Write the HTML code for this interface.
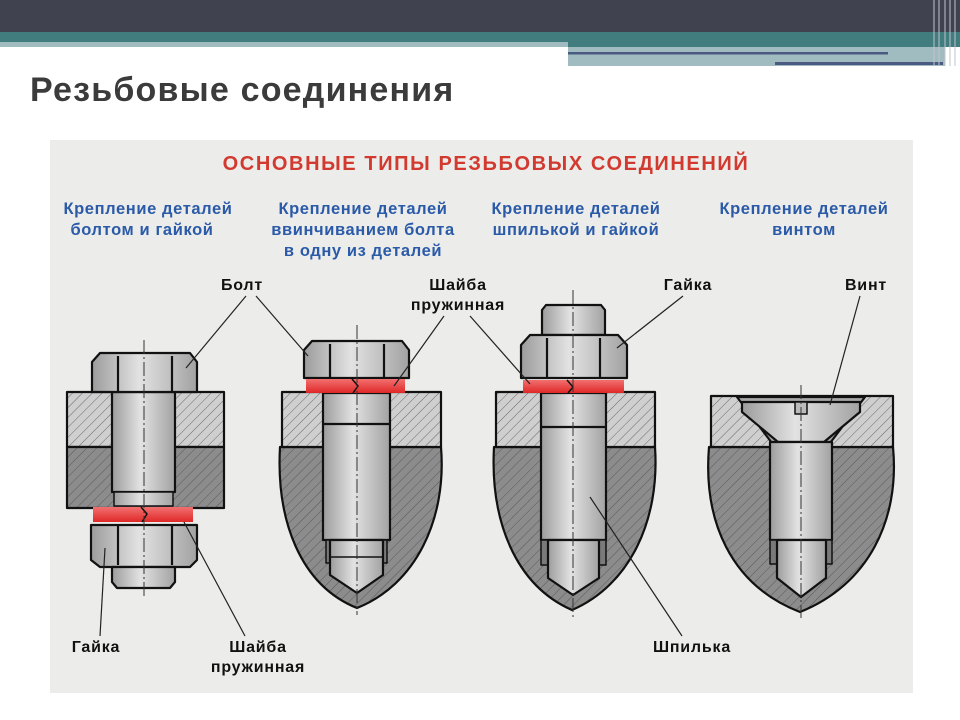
<!DOCTYPE html>
<html><head><meta charset="utf-8"><style>
html,body{margin:0;padding:0;background:#fff;}
body{width:960px;height:720px;position:relative;overflow:hidden;font-family:"Liberation Sans",sans-serif;}
</style></head><body>
<svg width="960" height="720" viewBox="0 0 960 720" xmlns="http://www.w3.org/2000/svg" style="position:absolute;left:0;top:0">
<defs>
<pattern id="hl" width="7" height="7" patternUnits="userSpaceOnUse" patternTransform="rotate(45)">
<rect width="7" height="7" fill="#cfcfcf"/><line x1="0" y1="0" x2="0" y2="7" stroke="#6a6a6a" stroke-width="1"/></pattern>
<pattern id="hd" width="7" height="7" patternUnits="userSpaceOnUse" patternTransform="rotate(45)">
<rect width="7" height="7" fill="#8c8c8c"/><line x1="0" y1="0" x2="0" y2="7" stroke="#5a5a5a" stroke-width="1"/></pattern>
<linearGradient id="m" x1="0" x2="1" y1="0" y2="0">
<stop offset="0" stop-color="#9c9c9c"/><stop offset="0.45" stop-color="#e2e2e2"/><stop offset="1" stop-color="#a2a2a2"/></linearGradient>
<linearGradient id="r" x1="0" x2="0" y1="0" y2="1">
<stop offset="0" stop-color="#f27070"/><stop offset="1" stop-color="#e02828"/></linearGradient>
</defs>
<rect x="0" y="0" width="960" height="32" fill="#41424f"/>
<rect x="0" y="32" width="960" height="10" fill="#417d7f"/>
<rect x="0" y="42" width="568" height="5" fill="#a0bcc0"/>
<rect x="568" y="42" width="392" height="5" fill="#417d7f"/>
<rect x="568" y="47" width="377" height="19" fill="#a0bcc0"/>
<rect x="568" y="52" width="320" height="2.5" fill="#4a5a80"/>
<rect x="775" y="62" width="168" height="3" fill="#4a5a80"/>
<g stroke="#c0c4cc" stroke-width="1"><line x1="934" y1="0" x2="934" y2="66"/><line x1="939" y1="0" x2="939" y2="66"/><line x1="945" y1="0" x2="945" y2="66"/><line x1="950" y1="0" x2="950" y2="66"/><line x1="955" y1="0" x2="955" y2="66"/></g>
<text x="30" y="101" font-size="34" font-weight="bold" fill="#3b3b3b" letter-spacing="1.2">Резьбовые соединения</text>

<rect x="50" y="140" width="863" height="553" fill="#ececea"/>
<text x="486" y="170" text-anchor="middle" font-size="20" font-weight="bold" fill="#d23a30" letter-spacing="1.6">ОСНОВНЫЕ ТИПЫ РЕЗЬБОВЫХ СОЕДИНЕНИЙ</text>
<g font-size="16.5" font-weight="bold" fill="#2a5aa8" text-anchor="middle" letter-spacing="0.6">
<text x="148" y="214">Крепление деталей</text><text x="142" y="235">болтом и гайкой</text>
<text x="363" y="214">Крепление деталей</text><text x="363" y="235">ввинчиванием болта</text><text x="363" y="256">в одну из деталей</text>
<text x="576" y="214">Крепление деталей</text><text x="576" y="235">шпилькой и гайкой</text>
<text x="804" y="214">Крепление деталей</text><text x="804" y="235">винтом</text>
</g>
<g font-size="16" font-weight="bold" fill="#111" text-anchor="middle" letter-spacing="0.8">
<text x="242" y="290">Болт</text>
<text x="458" y="290">Шайба</text><text x="458" y="310">пружинная</text>
<text x="688" y="290">Гайка</text>
<text x="866" y="290">Винт</text>
<text x="96" y="652">Гайка</text>
<text x="258" y="652">Шайба</text><text x="258" y="672">пружинная</text>
<text x="692" y="652">Шпилька</text>
</g>

<g stroke="#111" stroke-width="2.2" stroke-linejoin="round">
<rect x="67" y="392" width="157" height="55" fill="url(#hl)"/>
<rect x="67" y="447" width="157" height="61" fill="url(#hd)"/>
<rect x="112" y="392" width="63" height="100" fill="url(#m)"/>
<rect x="114" y="492" width="59" height="14" fill="url(#m)" stroke-width="1.5"/>
<path d="M92,392 L92,362 L100,353 L190,353 L197,362 L197,392 Z" fill="url(#m)"/>
<line x1="118" y1="356" x2="118" y2="392"/><line x1="172" y1="356" x2="172" y2="392"/>
<rect x="93" y="507" width="100" height="15" fill="url(#r)" stroke="none"/>
<path d="M91,525 L197,525 L197,560 L190,567 L100,567 L91,560 Z" fill="url(#m)"/>
<line x1="118" y1="525" x2="118" y2="565"/><line x1="172" y1="525" x2="172" y2="565"/>
<path d="M112,567 L175,567 L175,582 L170,588 L117,588 L112,582 Z" fill="url(#m)"/>

<path d="M280,447 C276,520 300,585 357,608 C415,585 447,520 441,447 Z" fill="url(#hd)"/>
<rect x="282" y="392" width="159" height="55" fill="url(#hl)"/>
<rect x="323" y="393" width="67" height="147" fill="url(#m)"/>
<line x1="323" y1="424" x2="390" y2="424"/>
<rect x="326" y="540" width="61" height="23" fill="#7a7a7a" stroke-width="1.5"/>
<path d="M330,540 L383,540 L383,575 L357,593 L330,575 Z" fill="url(#m)"/>
<line x1="330" y1="557" x2="383" y2="557" stroke-width="1.5"/>
<path d="M304,378 L304,350 L312,341 L402,341 L409,350 L409,378 Z" fill="url(#m)"/>
<line x1="330" y1="344" x2="330" y2="378"/><line x1="384" y1="344" x2="384" y2="378"/>
<rect x="306" y="379" width="99" height="14" fill="url(#r)" stroke="none"/>

<path d="M494,447 C490,520 515,585 572,610 C630,585 660,520 655,447 Z" fill="url(#hd)"/>
<rect x="496" y="392" width="159" height="55" fill="url(#hl)"/>
<rect x="541" y="393" width="65" height="147" fill="url(#m)"/>
<line x1="541" y1="427" x2="606" y2="427"/>
<rect x="541" y="540" width="65" height="25" fill="#7a7a7a" stroke-width="1.5"/>
<path d="M548,540 L599,540 L599,578 L573,595 L548,578 Z" fill="url(#m)"/>
<path d="M542,335 L542,310 L546,305 L601,305 L605,310 L605,335 Z" fill="url(#m)"/>
<path d="M521,378 L521,345 L530,335 L618,335 L627,345 L627,378 Z" fill="url(#m)"/>
<line x1="547" y1="338" x2="547" y2="378"/><line x1="600" y1="338" x2="600" y2="378"/>
<rect x="523" y="380" width="101" height="13" fill="url(#r)" stroke="none"/>

<path d="M709,447 C703,520 730,585 800,612 C868,585 900,520 893,447 Z" fill="url(#hd)"/>
<path d="M711,396 L893,396 L893,447 L711,447 Z" fill="url(#hl)"/>
<path d="M737,397 L865,397 L827,447 L775,447 Z" fill="#a8a8a8"/>
<path d="M742,402 L860,402 L860,412 L824,442 L778,442 L742,412 Z" fill="url(#m)"/>
<rect x="795" y="402" width="12" height="12" fill="#bbb" stroke-width="1.5"/>
<rect x="770" y="442" width="62" height="98" fill="url(#m)"/>
<rect x="770" y="540" width="62" height="24" fill="#7a7a7a" stroke-width="1.5"/>
<path d="M777,540 L826,540 L826,578 L801,597 L777,578 Z" fill="url(#m)"/>
</g>
<g stroke="#111" stroke-width="1.5" fill="none">
<path d="M141,507 L147,514 L142,522"/><path d="M352,379 L358,386 L353,393"/><path d="M567,380 L573,387 L568,393"/>
</g>
<g stroke="#333" stroke-width="1" stroke-dasharray="14 3 2 3">
<line x1="144" y1="340" x2="144" y2="596"/><line x1="357" y1="325" x2="357" y2="615"/>
<line x1="573" y1="290" x2="573" y2="618"/><line x1="801" y1="385" x2="801" y2="618"/>
</g>
<g stroke="#222" stroke-width="1.2">
<line x1="246" y1="296" x2="186" y2="368"/><line x1="256" y1="296" x2="308" y2="356"/>
<line x1="444" y1="316" x2="394" y2="386"/><line x1="470" y1="316" x2="530" y2="384"/>
<line x1="683" y1="296" x2="617" y2="348"/>
<line x1="860" y1="296" x2="830" y2="405"/>
<line x1="100" y1="636" x2="105" y2="548"/>
<line x1="245" y1="636" x2="184" y2="522"/>
<line x1="682" y1="636" x2="590" y2="497"/>
</g>
</svg>
</body></html>
